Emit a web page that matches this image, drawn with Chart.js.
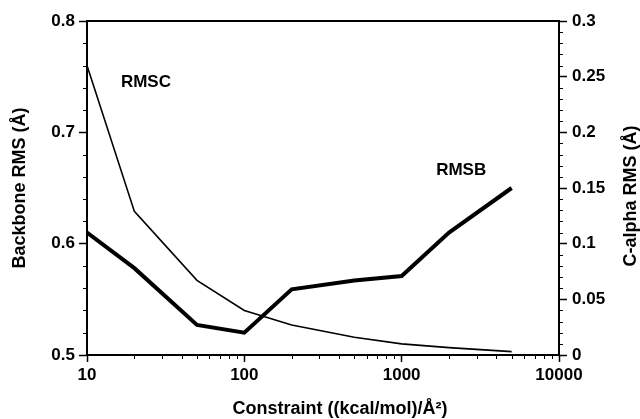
<!DOCTYPE html>
<html>
<head>
<meta charset="utf-8">
<script src="https://cdn.jsdelivr.net/npm/chart.js@4"></script>
<style>
  html, body { margin: 0; padding: 0; background: #fff; }
</style>
</head>
<body>
<canvas id="grafico" width="640" height="419"></canvas>
<script>
// values
const constraint = [10, 20, 50, 100, 200, 500, 1000, 2000, 5000];
const rmsb = [0.610, 0.578, 0.527, 0.520, 0.559, 0.567, 0.571, 0.610, 0.650];   // backbone, left axis
const rmsc = [0.260, 0.129, 0.067, 0.040, 0.027, 0.016, 0.010, 0.0066, 0.003]; // c-alpha, right axis
const xTicks = [10, 100, 1000, 10000];
const leftTicks = [0.5, 0.6, 0.7, 0.8];
const rightTicks = [0, 0.05, 0.1, 0.15, 0.2, 0.25, 0.3];

const FONT = '"Liberation Sans", Arial, Helvetica, sans-serif';

// minor tick marks (outward), top frame line, curve labels, right and bottom titles
const frameAndMinor = {
  id: 'frameAndMinor',
  afterDraw(chart) {
    const ctx = chart.ctx;
    const a = chart.chartArea;
    const sx = chart.scales.x, sy = chart.scales.y, sy1 = chart.scales.y1;
    ctx.save();
    ctx.strokeStyle = '#000';
    ctx.lineWidth = 2;
    ctx.beginPath();
    ctx.moveTo(a.left - 1, a.top);
    ctx.lineTo(a.right + 1, a.top);
    ctx.stroke();

    ctx.lineWidth = 1;
    ctx.beginPath();
    for (let d = 10; d < 10000; d *= 10) {
      for (let m = 2; m <= 9; m++) {
        const px = Math.round(sx.getPixelForValue(d * m)) + 0.5;
        ctx.moveTo(px, a.bottom);
        ctx.lineTo(px, a.bottom + 4);
      }
    }
    for (let i = 1; i < 15; i++) {
      if (i % 5 === 0) continue;
      const py = Math.round(sy.getPixelForValue(0.5 + i * 0.02)) + 0.5;
      ctx.moveTo(a.left, py);
      ctx.lineTo(a.left - 4, py);
    }
    for (let i = 1; i < 30; i++) {
      if (i % 5 === 0) continue;
      const py1 = Math.round(sy1.getPixelForValue(i * 0.01)) + 0.5;
      ctx.moveTo(a.right, py1);
      ctx.lineTo(a.right + 4, py1);
    }
    ctx.stroke();

    ctx.fillStyle = '#000';
    ctx.font = 'bold 17px ' + FONT;
    ctx.textAlign = 'center';
    ctx.textBaseline = 'middle';
    ctx.fillText('RMSC', sx.getPixelForValue(23.7), sy.getPixelForValue(0.745));
    ctx.fillText('RMSB', sx.getPixelForValue(2390), sy.getPixelForValue(0.666));

    ctx.font = 'bold 18px ' + FONT;
    ctx.textBaseline = 'alphabetic';
    ctx.fillText('Constraint ((kcal/mol)/Å²)', 340, 414);

    // right title reads bottom to top, like the left one
    ctx.textBaseline = 'middle';
    ctx.translate(631, (a.top + a.bottom) / 2 + 8);
    ctx.rotate(-Math.PI / 2);
    ctx.fillText('C-alpha RMS (Å)', 0, 0);
    ctx.restore();
  }
};

function axisGrid() {
  return { drawOnChartArea: false, drawTicks: true, tickLength: 8, tickColor: '#000', tickWidth: 1.5, color: '#000' };
}

const ctx = document.getElementById('grafico').getContext('2d');
const grafico = new Chart(ctx, {
  type: 'line',
  data: {
    datasets: [
      {
        label: 'RMSC',
        data: constraint.map((c, i) => ({ x: c, y: rmsc[i] })),
        yAxisID: 'y1',
        borderColor: '#000',
        borderWidth: 1.6,
        pointRadius: 0,
        tension: 0,
        fill: false
      },
      {
        label: 'RMSB',
        data: constraint.map((c, i) => ({ x: c, y: rmsb[i] })),
        yAxisID: 'y',
        borderColor: '#000',
        borderWidth: 4,
        pointRadius: 0,
        tension: 0,
        fill: false
      }
    ]
  },
  options: {
    responsive: false,
    animation: false,
    layout: { padding: { top: 21, left: 0, right: 0, bottom: 0 } },
    plugins: {
      legend: { display: false },
      tooltip: { enabled: false }
    },
    scales: {
      x: {
        type: 'logarithmic',
        position: 'bottom',
        min: 10,
        max: 10000,
        afterBuildTicks: s => { s.ticks = xTicks.map(v => ({ value: v })); },
        afterFit: s => { s.height = 64; },
        border: { display: true, color: '#000', width: 2 },
        grid: Object.assign(axisGrid(), { tickLength: 7 }),
        ticks: {
          color: '#000',
          padding: 3,
          maxRotation: 0,
          autoSkip: false,
          font: { family: FONT, size: 17, weight: 'bold' },
          callback: v => String(v)
        },
        title: { display: false }
      },
      y: {
        position: 'left',
        min: 0.5,
        max: 0.8,
        afterBuildTicks: s => { s.ticks = leftTicks.map(v => ({ value: v })); },
        afterFit: s => { s.width = 87; },
        border: { display: true, color: '#000', width: 2 },
        grid: axisGrid(),
        ticks: {
          color: '#000',
          padding: 4,
          font: { family: FONT, size: 17, weight: 'bold' },
          callback: v => v.toFixed(1)
        },
        title: {
          display: true,
          text: 'Backbone RMS (Å)',
          color: '#000',
          padding: { top: 11, bottom: 0 },
          font: { family: FONT, size: 18, weight: 'bold', lineHeight: 1 }
        }
      },
      y1: {
        position: 'right',
        min: 0,
        max: 0.3,
        afterBuildTicks: s => { s.ticks = rightTicks.map(v => ({ value: v })); },
        afterFit: s => { s.width = 81; },
        border: { display: true, color: '#000', width: 2 },
        grid: axisGrid(),
        ticks: {
          color: '#000',
          padding: 5,
          font: { family: FONT, size: 17, weight: 'bold' },
          callback: v => String(Math.round(v * 100) / 100)
        },
        title: { display: false }
      }
    }
  },
  plugins: [frameAndMinor]
});
</script>
</body>
</html>
